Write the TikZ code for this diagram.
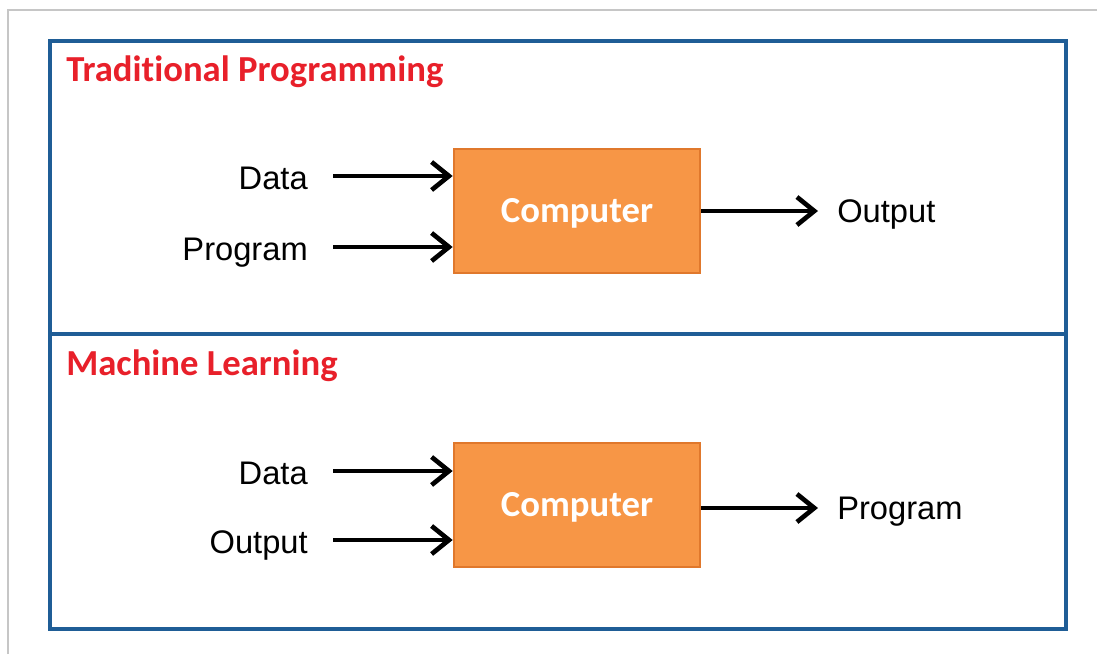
\documentclass[tikz,border=0pt]{standalone}
\usepackage{fontspec}
\setmainfont{Liberation Sans}
\newfontfamily\calibrifont[Ligatures=NoCommon]{Carlito}
\usetikzlibrary{arrows.meta,positioning}
\definecolor{frameblue}{HTML}{1F5D96}
\definecolor{boxorange}{HTML}{F79646}
\definecolor{boxedge}{HTML}{E0782C}
\definecolor{titlered}{HTML}{E8202A}

\begin{document}
\begin{tikzpicture}[x=0.75pt,y=-0.75pt,
    panel/.style={draw=frameblue, line width=2.5pt},
    compbox/.style={draw=boxedge, line width=1.5pt, fill=boxorange,
        minimum width=185pt, minimum height=93pt, inner sep=0pt,
        text height=17pt, text depth=0pt,
        text=white, font=\calibrifont\bfseries\fontsize{27.5}{30}\selectfont},
    heading/.style={anchor=base west, inner sep=0pt, text=titlered,
        font=\calibrifont\bfseries\fontsize{27.5}{30}\selectfont},
    lbl/.style={inner sep=0pt, text height=17.6pt, text depth=0pt,
        font=\fontsize{24.5}{28}\selectfont},
    arr/.style={line width=3.5pt, -{Straight Barb[length=13pt,width=21pt]}}]
    \useasboundingbox (0,0) rectangle (1097,654);

    % Draw page edge.
    \draw[gray!45, line width=0.8pt] (8,654) -- (8,10) -- (1097,10);

    % Draw panels.
    \draw[panel] (50,41) rectangle (1066,629);
    \draw[panel] (50,334) -- (1066,334);
    \node[heading] (ttitle) at (66,81) {Traditional Programming};
    \node[heading] (mtitle) at (66,375) {Machine Learning};

    % Draw computers.
    \node[compbox] (tcomp) at (577,211) {Computer};
    \node[compbox] (mcomp) at (577,505) {Computer};

    % Draw inputs.
    \foreach \n/\t/\y/\c in {tdata/Data/176/tcomp, tprog/Program/247/tcomp,
                             mdata/Data/471/mcomp, mout/Output/540/mcomp}{
        \coordinate (\n-in) at (333,\y);
        \node[lbl, left=18.75pt of \n-in, yshift=-1.5pt] (\n) {\t};
        \draw[arr] (\n-in) -- (\c.west |- \n-in);
    }

    % Draw outputs.
    \foreach \n/\t/\y/\c in {tout/Output/211/tcomp, mprog/Program/508/mcomp}{
        \coordinate (\n-end) at (818,\y);
        \node[lbl, right=14.25pt of \n-end] (\n) {\t};
        \draw[arr] (\c.east |- \n-end) -- (\n-end);
    }
\end{tikzpicture}
\end{document}
